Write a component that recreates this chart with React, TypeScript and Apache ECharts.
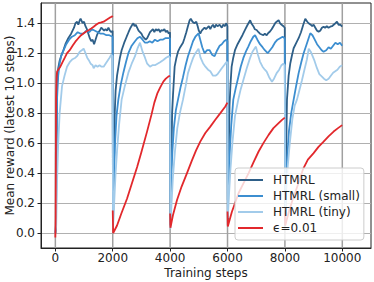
import React, { useEffect, useRef } from 'react';
import * as echarts from 'echarts';

const xTicks = [0, 2000, 4000, 6000, 8000, 10000];
const yTicks = [0, 0.2, 0.4, 0.6, 0.8, 1.0, 1.2, 1.4];
const xRange = [-500, 11000];
const yRange = [-0.1, 1.535];

const seriesNames = ['HTMRL', 'HTMRL (small)', 'HTMRL (tiny)', 'ϵ=0.01'];
const seriesColors = ['#2e5f88', '#3c8ed0', '#a2cbea', '#e2282c'];

const htmrl: [number, number][] = [
  [0, 0.0], [20, 0.02], [40, 0.6], [60, 1.0], [100, 1.1], [150, 1.15], [200, 1.18], [280, 1.22], [350, 1.26],
  [450, 1.3], [550, 1.33], [650, 1.37], [700, 1.4], [760, 1.41], [800, 1.39], [850, 1.42], [880, 1.43],
  [950, 1.4], [1000, 1.41], [1050, 1.38], [1100, 1.36], [1150, 1.33], [1200, 1.3], [1250, 1.28], [1300, 1.29],
  [1350, 1.26], [1400, 1.29], [1450, 1.32], [1500, 1.34], [1550, 1.35], [1600, 1.37], [1650, 1.36], [1700, 1.35],
  [1750, 1.36], [1800, 1.35], [1850, 1.37], [1900, 1.35], [1950, 1.34], [1995, 1.35],
  [2000, 1.35], [2010, 0.05], [2040, 0.4], [2070, 0.8], [2100, 0.95], [2150, 1.05], [2200, 1.11], [2250, 1.17],
  [2310, 1.22], [2400, 1.27], [2485, 1.31], [2550, 1.34], [2620, 1.37], [2680, 1.39], [2720, 1.4], [2760, 1.38],
  [2800, 1.39], [2850, 1.37], [2900, 1.35], [2950, 1.34], [3000, 1.33], [3050, 1.31], [3100, 1.3], [3150, 1.29],
  [3200, 1.3], [3250, 1.32], [3300, 1.34], [3350, 1.35], [3400, 1.36], [3450, 1.34], [3500, 1.36], [3550, 1.35],
  [3600, 1.36], [3650, 1.34], [3700, 1.355], [3750, 1.35], [3800, 1.36], [3850, 1.34], [3900, 1.35], [3950, 1.33],
  [3995, 1.34],
  [4000, 1.34], [4010, 0.05], [4040, 0.45], [4070, 0.8], [4100, 0.92], [4157, 1.11], [4220, 1.17], [4274, 1.21],
  [4350, 1.24], [4448, 1.27], [4500, 1.3], [4564, 1.34], [4620, 1.38], [4680, 1.42], [4720, 1.43], [4780, 1.41],
  [4850, 1.4], [4912, 1.41], [4960, 1.38], [5000, 1.35], [5050, 1.33], [5100, 1.35], [5150, 1.36], [5200, 1.37],
  [5250, 1.36], [5300, 1.37], [5350, 1.38], [5400, 1.36], [5450, 1.38], [5494, 1.39], [5550, 1.37], [5600, 1.39],
  [5650, 1.38], [5726, 1.39], [5800, 1.37], [5850, 1.39], [5900, 1.38], [5958, 1.4], [5995, 1.38],
  [6000, 1.38], [6010, 0.05], [6040, 0.5], [6070, 0.85], [6100, 0.98], [6143, 1.11], [6200, 1.17], [6260, 1.22],
  [6350, 1.26], [6434, 1.29], [6520, 1.32], [6609, 1.355], [6700, 1.39], [6790, 1.42], [6830, 1.4], [6900, 1.38],
  [6950, 1.36], [7015, 1.355], [7080, 1.34], [7130, 1.33], [7190, 1.325], [7250, 1.32], [7300, 1.33], [7364, 1.32],
  [7420, 1.335], [7480, 1.345], [7538, 1.36], [7600, 1.38], [7660, 1.4], [7712, 1.41], [7780, 1.42], [7830, 1.4],
  [7887, 1.39], [7950, 1.38], [7995, 1.37],
  [8000, 1.37], [8010, 0.05], [8040, 0.5], [8072, 0.89], [8130, 1.05], [8188, 1.133], [8250, 1.19], [8304, 1.233],
  [8400, 1.27], [8478, 1.3], [8560, 1.34], [8640, 1.39], [8710, 1.43], [8780, 1.41], [8826, 1.4], [8900, 1.39],
  [8950, 1.38], [9000, 1.39], [9060, 1.37], [9120, 1.35], [9174, 1.344], [9230, 1.35], [9290, 1.37], [9348, 1.377],
  [9400, 1.37], [9460, 1.38], [9520, 1.37], [9581, 1.377], [9640, 1.38], [9700, 1.39], [9760, 1.4], [9815, 1.41],
  [9870, 1.39], [9930, 1.39], [9995, 1.377],
];

const htmrlSmall: [number, number][] = [
  [0, 0.0], [20, 0.05], [40, 0.5], [60, 0.9], [100, 1.05], [150, 1.13], [200, 1.18], [290, 1.22], [380, 1.26],
  [480, 1.29], [580, 1.31], [680, 1.32], [780, 1.34], [880, 1.33], [980, 1.33], [1080, 1.35], [1180, 1.34],
  [1280, 1.36], [1380, 1.35], [1480, 1.34], [1580, 1.33], [1680, 1.33], [1780, 1.32], [1880, 1.32], [1995, 1.31],
  [2000, 1.31], [2010, 0.1], [2040, 0.35], [2080, 0.6], [2130, 0.78], [2195, 0.89], [2280, 0.99], [2370, 1.07],
  [2460, 1.14], [2545, 1.2], [2660, 1.25], [2776, 1.28], [2860, 1.3], [2950, 1.31], [3040, 1.29], [3124, 1.27],
  [3200, 1.27], [3290, 1.28], [3380, 1.27], [3470, 1.29], [3560, 1.28], [3650, 1.29], [3740, 1.29], [3830, 1.3],
  [3920, 1.3], [3995, 1.3],
  [4000, 1.3], [4010, 0.22], [4040, 0.38], [4080, 0.55], [4130, 0.7], [4200, 0.82], [4274, 0.89], [4360, 0.97],
  [4448, 1.04], [4540, 1.12], [4622, 1.18], [4710, 1.23], [4797, 1.28], [4880, 1.31], [4990, 1.333], [5050, 1.29],
  [5120, 1.24], [5200, 1.2], [5290, 1.22], [5376, 1.22], [5460, 1.19], [5550, 1.18], [5640, 1.22], [5726, 1.25],
  [5800, 1.26], [5880, 1.28], [5958, 1.29], [5995, 1.28],
  [6000, 1.28], [6010, 0.22], [6040, 0.38], [6080, 0.55], [6130, 0.72], [6201, 0.89], [6290, 0.97], [6375, 1.04],
  [6460, 1.11], [6550, 1.167], [6640, 1.21], [6724, 1.244], [6810, 1.28], [6898, 1.31], [6960, 1.32], [7040, 1.29],
  [7131, 1.26], [7220, 1.24], [7300, 1.22], [7400, 1.2], [7480, 1.22], [7560, 1.24], [7650, 1.27], [7740, 1.29],
  [7830, 1.3], [7920, 1.31], [7995, 1.3],
  [8000, 1.3], [8010, 0.2], [8040, 0.35], [8080, 0.5], [8140, 0.68], [8220, 0.8], [8304, 0.89], [8390, 0.98],
  [8478, 1.067], [8570, 1.14], [8652, 1.2], [8740, 1.25], [8826, 1.3], [8885, 1.333], [8960, 1.32], [9040, 1.29],
  [9120, 1.26], [9200, 1.24], [9280, 1.22], [9348, 1.21], [9440, 1.22], [9522, 1.24], [9600, 1.23], [9680, 1.25],
  [9760, 1.27], [9840, 1.26], [9920, 1.27], [9995, 1.25],
];

const htmrlTiny: [number, number][] = [
  [0, 0.0], [30, 0.05], [60, 0.35], [100, 0.6], [150, 0.8], [233, 0.98], [320, 1.05], [407, 1.11], [500, 1.14],
  [600, 1.16], [700, 1.17], [756, 1.18], [850, 1.21], [920, 1.22], [987, 1.23], [1050, 1.2], [1110, 1.17],
  [1161, 1.155], [1230, 1.13], [1300, 1.12], [1335, 1.1], [1400, 1.12], [1470, 1.11], [1540, 1.12], [1610, 1.11],
  [1683, 1.11], [1750, 1.13], [1820, 1.15], [1890, 1.17], [1950, 1.19], [1995, 1.18],
  [2000, 1.18], [2010, 0.03], [2050, 0.2], [2100, 0.4], [2150, 0.55], [2220, 0.72], [2310, 0.89], [2420, 0.98],
  [2545, 1.07], [2660, 1.13], [2776, 1.18], [2860, 1.23], [2950, 1.27], [3040, 1.21], [3124, 1.17], [3200, 1.13],
  [3298, 1.11], [3380, 1.12], [3470, 1.12], [3560, 1.13], [3650, 1.14], [3763, 1.155], [3860, 1.17], [3950, 1.18],
  [3995, 1.17],
  [4000, 1.17], [4010, 0.03], [4050, 0.2], [4100, 0.38], [4170, 0.55], [4250, 0.7], [4340, 0.8], [4448, 0.89],
  [4540, 0.98], [4622, 1.067], [4710, 1.12], [4797, 1.167], [4880, 1.2], [4990, 1.23], [5060, 1.17], [5146, 1.133],
  [5230, 1.11], [5320, 1.09], [5400, 1.08], [5494, 1.05], [5580, 1.05], [5650, 1.06], [5726, 1.08], [5800, 1.1],
  [5880, 1.12], [5958, 1.14], [5995, 1.14],
  [6000, 1.14], [6010, 0.1], [6050, 0.25], [6100, 0.42], [6170, 0.6], [6260, 0.78], [6375, 0.89], [6460, 0.96],
  [6550, 1.02], [6670, 1.1], [6783, 1.167], [6870, 1.21], [6990, 1.244], [7060, 1.19], [7131, 1.144], [7220, 1.11],
  [7300, 1.09], [7364, 1.077], [7450, 1.04], [7549, 1.01], [7620, 1.03], [7712, 1.067], [7800, 1.09], [7880, 1.12],
  [7945, 1.13], [7995, 1.12],
  [8000, 1.12], [8010, 0.15], [8050, 0.3], [8100, 0.45], [8170, 0.6], [8260, 0.76], [8340, 0.85], [8420, 0.89],
  [8500, 0.95], [8594, 1.02], [8680, 1.09], [8768, 1.16], [8830, 1.23], [8900, 1.21], [9030, 1.15], [9117, 1.1],
  [9200, 1.06], [9290, 1.044], [9360, 1.03], [9440, 1.02], [9522, 1.03], [9600, 1.05], [9680, 1.07], [9755, 1.08],
  [9830, 1.09], [9910, 1.11], [9995, 1.12],
];

const epsGreedy: [number, number | null][] = [
  [0, -0.03], [10, 0.1], [25, 0.9], [45, 1.04], [60, 1.077], [100, 1.09], [174, 1.11], [250, 1.14], [330, 1.17],
  [407, 1.2], [500, 1.22], [600, 1.25], [697, 1.277], [800, 1.3], [900, 1.32], [987, 1.333], [1080, 1.345],
  [1170, 1.355], [1250, 1.365], [1335, 1.377], [1420, 1.39], [1500, 1.4], [1600, 1.405], [1683, 1.41], [1760, 1.42],
  [1840, 1.43], [1920, 1.44], [1975, 1.444], [1995, 1.45],
  [1999, null],
  [2000, 0.15], [2015, 0.0], [2150, 0.05], [2300, 0.13], [2500, 0.23], [2650, 0.32], [2850, 0.44], [3000, 0.54],
  [3200, 0.68], [3350, 0.79], [3450, 0.87], [3550, 0.93], [3650, 0.97], [3763, 1.01], [3850, 1.03], [3937, 1.044],
  [3995, 1.05],
  [3999, null],
  [4000, 0.13], [4010, 0.035], [4100, 0.12], [4240, 0.22], [4400, 0.31], [4588, 0.4], [4750, 0.48], [4900, 0.55],
  [5050, 0.61], [5226, 0.667], [5400, 0.71], [5574, 0.756], [5750, 0.8], [5923, 0.844], [5995, 0.87],
  [5999, null],
  [6000, 0.144], [6010, 0.044], [6150, 0.14], [6387, 0.267], [6550, 0.33], [6735, 0.4], [6900, 0.47], [7083, 0.544],
  [7250, 0.6], [7432, 0.655], [7600, 0.7], [7780, 0.733], [7900, 0.755], [7995, 0.77],
  [7999, null],
  [8000, 0.13], [8010, 0.05], [8150, 0.15], [8300, 0.24], [8450, 0.32], [8640, 0.43], [8800, 0.49], [9000, 0.533],
  [9170, 0.575], [9348, 0.61], [9520, 0.645], [9697, 0.677], [9850, 0.7], [9995, 0.72],
];

const seriesData = [htmrl, htmrlSmall, htmrlTiny, epsGreedy];

const FONT = 'DejaVu Sans';
const TEXT = '#222222';
const GRIDLINE = '#b0b0b0';

export default function App() {
  const ref = useRef<HTMLDivElement>(null);
  useEffect(() => {
    if (!ref.current) return;
    const chart = echarts.init(ref.current, undefined, { renderer: 'svg' });
    const xGridData: [number, number | null][] = [];
    xTicks.forEach((t) => {
      xGridData.push([t, yRange[0]], [t, yRange[1]], [t, null]);
    });
    chart.setOption({
      animation: false,
      grid: {
        left: 41, right: 3, top: 3, bottom: 34,
        containLabel: false, outerBoundsMode: 'none',
        show: true, borderColor: '#222', borderWidth: 1, backgroundColor: 'transparent',
      },
      xAxis: {
        type: 'value', min: xRange[0], max: xRange[1],
        axisLine: { show: true, onZero: false, lineStyle: { color: '#222', width: 1 } },
        axisTick: { show: true, customValues: xTicks, length: 3.5, lineStyle: { color: '#222' } },
        axisLabel: {
          customValues: xTicks, color: TEXT, fontSize: 12, fontFamily: FONT, margin: 4,
          formatter: (v: number) => String(v),
        },
        splitLine: { show: false },
        name: 'Training steps', nameLocation: 'middle', nameGap: 18.5, nameMoveOverlap: false,
        nameTextStyle: { color: TEXT, fontSize: 12, fontFamily: FONT },
      },
      yAxis: {
        type: 'value', min: yRange[0], max: yRange[1],
        axisLine: { show: true, onZero: false, lineStyle: { color: '#222', width: 1 } },
        axisTick: { show: true, customValues: yTicks, length: 3.5, lineStyle: { color: '#222' } },
        axisLabel: {
          customValues: yTicks, color: TEXT, fontSize: 12, fontFamily: FONT, margin: 6,
          formatter: (v: number) => v.toFixed(1),
        },
        splitLine: { show: true, lineStyle: { color: GRIDLINE, width: 1 } },
        name: 'Mean reward (latest 10 steps)', nameLocation: 'middle', nameGap: 25, nameMoveOverlap: false,
        nameTextStyle: { color: TEXT, fontSize: 12, fontFamily: FONT },
      },
      legend: {
        orient: 'vertical', left: 235, top: 168,
        padding: [6, 4, 6, 3], itemGap: 4, itemWidth: 25, itemHeight: 2,
        backgroundColor: 'rgba(255,255,255,0.8)', borderColor: '#cccccc', borderWidth: 1, borderRadius: 3,
        textStyle: { color: TEXT, fontSize: 12, fontFamily: FONT, padding: [0, 0, 0, 5] },
        data: seriesNames.map((n) => ({ name: n, icon: 'rect' })),
      },
      series: [
        {
          name: 'xgrid', type: 'line', data: xGridData, showSymbol: false, symbol: 'none',
          connectNulls: false, z: 1, silent: true, clip: true,
          lineStyle: { color: '#a0a0a0', width: 1.5 },
          emphasis: { disabled: true },
        },
        ...seriesNames.map((name, i) => ({
          name, type: 'line', data: seriesData[i], showSymbol: false, symbol: 'none',
          connectNulls: false, z: 2,
          lineStyle: { color: seriesColors[i], width: 1.8 },
          itemStyle: { color: seriesColors[i] },
          emphasis: { disabled: true },
        })),
      ],
    });
    return () => chart.dispose();
  }, []);
  return <div ref={ref} style={{ position: 'absolute', left: 0, top: 0, width: 374, height: 282 }} />;
}
